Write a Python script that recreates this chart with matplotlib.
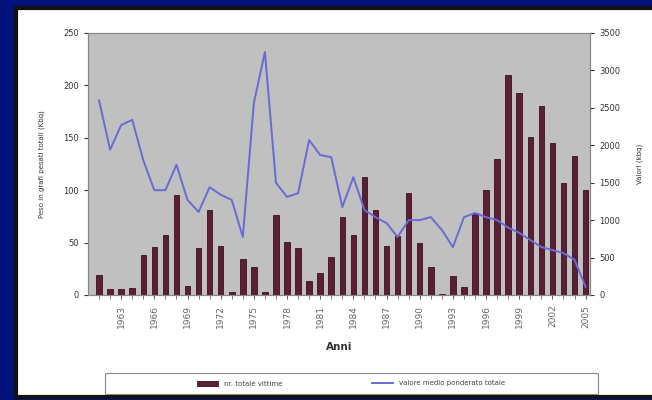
import numpy as np
import matplotlib.pyplot as plt
from matplotlib.patches import Rectangle

# yearly series, 1961-2005
anni = list(range(1961, 2006))
vittime = [19, 6, 6, 7, 38, 46, 57, 95, 9, 45, 81, 47, 3, 34, 27, 3, 76, 51, 45, 13,
           21, 36, 74, 57, 113, 81, 47, 56, 97, 50, 27, 1, 18, 8, 78, 100, 130, 210, 193, 151,
           180, 145, 107, 133, 100]
valore_medio = [2600, 1940, 2270, 2340, 1800, 1400, 1400, 1740, 1270, 1110, 1440, 1340, 1270, 775, 2565,
                3246, 1500, 1310, 1360, 2070, 1870, 1840, 1175, 1575, 1135, 1040, 960, 775, 1000, 1000,
                1040, 870, 640, 1040, 1095, 1040, 1000, 900, 830, 735, 640, 600, 560, 470, 110]
anni_etichette = anni[2::3]

W, H = 652, 400
fig = plt.figure(figsize=(W / 100, H / 100), dpi=100)
fig.patch.set_facecolor('#03127a')
# white chart area with dark frame, behind everything
fig.patches.append(Rectangle((16 / W, 3 / H), 650 / W, 389 / H, transform=fig.transFigure,
                             facecolor='white', edgecolor='#111111', linewidth=3, zorder=-10))
# legend box
fig.patches.append(Rectangle((105 / W, 6 / H), 493 / W, 21 / H, transform=fig.transFigure,
                             facecolor='white', edgecolor='#888888', linewidth=0.8, zorder=-5))

ax = fig.add_axes([88 / W, 105 / H, 502 / W, 262 / H])
ax.set_facecolor('#c0c0c0')
x = np.arange(len(anni))
b = ax.bar(x, vittime, width=0.5, color='#5a1f35', edgecolor='#3a1020', linewidth=0.6,
           label='nr. totale vittime', zorder=2)
ax.set_xlim(-1.0, len(anni) - 0.6)
ax.set_ylim(0, 250)
ax.set_yticks(np.arange(0, 251, 50))
ax.set_xticks(x, minor=True)
ax.set_xticks([anni.index(a) for a in anni_etichette])
ax.set_xticklabels([str(a) for a in anni_etichette], rotation=90)
ax.tick_params(axis='x', which='both', length=3, colors='#666666', labelsize=6.5, pad=4)
ax.tick_params(axis='y', labelsize=6, colors='#333333', length=3)
for s in ax.spines.values():
    s.set_color('#888888')
    s.set_linewidth(0.8)
ax.set_ylabel('Peso in grafi pesati totali (Kbq)', fontsize=5, color='#333333', labelpad=13)
ax.set_xlabel('Anni', fontsize=7.5, fontweight='bold', color='#333333', labelpad=10)

ax2 = ax.twinx()
ln, = ax2.plot(x, valore_medio, color='#6a6ad4', linewidth=1.4, label='valore medio ponderato totale',
               zorder=3)
ax2.set_ylim(0, 3500)
ax2.set_yticks(np.arange(0, 3501, 500))
ax2.tick_params(axis='y', labelsize=6, colors='#333333', length=3)
for s in ax2.spines.values():
    s.set_color('#888888')
    s.set_linewidth(0.8)
ax2.set_ylabel('Valori (kbq)', fontsize=5, color='#333333', labelpad=12)

leg = fig.legend(handles=[b, ln], loc='center', bbox_to_anchor=(351 / W, 16.5 / H),
                 ncol=2, fontsize=5, frameon=False, handlelength=3, columnspacing=13)
for t in leg.get_texts():
    t.set_color('#444444')

fig.savefig('out.png', dpi=100, facecolor=fig.get_facecolor())
